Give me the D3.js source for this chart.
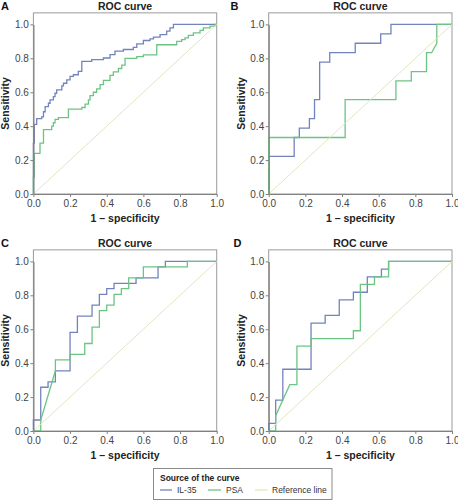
<!DOCTYPE html>
<html><head><meta charset="utf-8">
<script src="https://cdn.jsdelivr.net/npm/d3@7"></script>
<style>
html,body{margin:0;padding:0;background:#fff;}
svg{display:block;font-family:"Liberation Sans",Arial,sans-serif;}
</style></head>
<body>
<svg id="chart" width="458" height="500"></svg>
<script>
// ---------- data ----------
const panelLetters = ["A", "B", "C", "D"];
const seriesNames = ["IL-35", "PSA", "Reference line"];
const tickValues = [0, 0.2, 0.4, 0.6, 0.8, 1.0];
const chartTitle = "ROC curve";
const xTitle = "1 \u2013 specificity";
const yTitle = "Sensitivity";
const legendTitle = "Source of the curve";

// ROC vertices [1 - specificity, sensitivity]
const A_IL35 = [[0,0],[0,0.30],[0.005,0.30],[0.005,0.41],[0.018,0.41],[0.018,0.445],[0.045,0.445],[0.045,0.455],[0.055,0.455],[0.055,0.485],[0.064,0.485],[0.064,0.515],[0.082,0.515],[0.082,0.535],[0.091,0.535],[0.091,0.555],[0.109,0.555],[0.109,0.574],[0.118,0.574],[0.118,0.594],[0.127,0.594],[0.127,0.614],[0.155,0.614],[0.155,0.638],[0.164,0.638],[0.164,0.653],[0.182,0.653],[0.182,0.673],[0.2,0.673],[0.2,0.693],[0.218,0.693],[0.218,0.703],[0.245,0.703],[0.245,0.723],[0.264,0.723],[0.264,0.782],[0.318,0.782],[0.318,0.792],[0.382,0.792],[0.382,0.802],[0.418,0.802],[0.418,0.822],[0.445,0.822],[0.445,0.842],[0.491,0.842],[0.491,0.852],[0.545,0.852],[0.545,0.865],[0.564,0.865],[0.564,0.885],[0.6,0.885],[0.6,0.905],[0.636,0.905],[0.636,0.915],[0.655,0.915],[0.655,0.925],[0.691,0.925],[0.691,0.94],[0.727,0.94],[0.727,0.96],[0.745,0.96],[0.745,0.98],[0.764,0.98],[0.764,1],[1,1]];
const A_PSA = [[0,0],[0,0.10],[0.005,0.10],[0.005,0.24],[0.036,0.24],[0.036,0.30],[0.055,0.30],[0.055,0.38],[0.1,0.38],[0.1,0.40],[0.109,0.40],[0.109,0.42],[0.118,0.42],[0.118,0.44],[0.136,0.44],[0.136,0.45],[0.191,0.45],[0.191,0.50],[0.264,0.50],[0.264,0.51],[0.282,0.51],[0.282,0.53],[0.3,0.53],[0.3,0.555],[0.309,0.555],[0.309,0.58],[0.327,0.58],[0.327,0.60],[0.345,0.60],[0.345,0.62],[0.364,0.62],[0.364,0.645],[0.382,0.645],[0.382,0.67],[0.418,0.67],[0.418,0.70],[0.436,0.70],[0.436,0.72],[0.464,0.72],[0.464,0.74],[0.482,0.74],[0.482,0.76],[0.5,0.76],[0.5,0.80],[0.564,0.80],[0.564,0.81],[0.6,0.81],[0.6,0.82],[0.673,0.82],[0.673,0.88],[0.782,0.88],[0.782,0.90],[0.809,0.90],[0.809,0.91],[0.827,0.91],[0.827,0.92],[0.845,0.92],[0.845,0.935],[0.873,0.935],[0.873,0.95],[0.909,0.95],[0.909,0.965],[0.927,0.965],[0.927,0.98],[0.964,0.98],[0.964,0.99],[0.99,0.99],[0.99,1],[1,1]];
const B_IL35 = [[0,0],[0,0.222],[0.139,0.222],[0.139,0.333],[0.167,0.333],[0.167,0.389],[0.222,0.389],[0.222,0.444],[0.25,0.444],[0.25,0.556],[0.278,0.556],[0.278,0.778],[0.333,0.778],[0.333,0.833],[0.472,0.833],[0.472,0.889],[0.611,0.889],[0.611,0.944],[0.667,0.944],[0.667,1],[1,1]];
const B_PSA = [[0,0],[0,0.333],[0.417,0.333],[0.417,0.556],[0.694,0.556],[0.694,0.667],[0.778,0.667],[0.778,0.722],[0.861,0.722],[0.861,0.833],[0.889,0.833],[0.917,0.889],[0.917,1],[1,1]];
const C_IL35 = [[0,0],[0,0.065],[0.04,0.065],[0.04,0.258],[0.08,0.258],[0.08,0.29],[0.12,0.29],[0.12,0.355],[0.2,0.355],[0.2,0.581],[0.24,0.581],[0.24,0.677],[0.32,0.677],[0.32,0.742],[0.36,0.742],[0.36,0.806],[0.4,0.806],[0.4,0.839],[0.44,0.839],[0.44,0.871],[0.56,0.871],[0.56,0.903],[0.68,0.903],[0.68,0.968],[0.72,0.968],[0.72,1],[1,1]];
const C_PSA = [[0,0],[0.04,0],[0.04,0.065],[0.12,0.355],[0.12,0.419],[0.2,0.419],[0.2,0.452],[0.28,0.452],[0.28,0.516],[0.32,0.516],[0.32,0.613],[0.36,0.613],[0.36,0.71],[0.4,0.71],[0.4,0.742],[0.44,0.742],[0.44,0.806],[0.48,0.806],[0.48,0.839],[0.52,0.839],[0.52,0.903],[0.6,0.903],[0.6,0.968],[0.84,0.968],[0.84,1],[1,1]];
const D_IL35 = [[0,0],[0,0.045],[0.038,0.045],[0.038,0.182],[0.077,0.182],[0.077,0.364],[0.231,0.364],[0.231,0.636],[0.308,0.636],[0.308,0.682],[0.385,0.682],[0.385,0.773],[0.462,0.773],[0.462,0.818],[0.538,0.818],[0.538,0.909],[0.615,0.909],[0.615,0.955],[0.654,0.955],[0.654,1],[1,1]];
const D_PSA = [[0,0],[0.038,0],[0.038,0.09],[0.115,0.273],[0.154,0.273],[0.154,0.5],[0.231,0.5],[0.231,0.545],[0.462,0.545],[0.462,0.591],[0.5,0.591],[0.5,0.864],[0.577,0.864],[0.577,0.909],[0.654,0.909],[0.654,1],[1,1]];
const REF = [[0,0],[1,1]];

// ---------- styling / layout ----------
const colors = {"IL-35": "#7383bd", "PSA": "#6cc482", "Reference line": "#e2e7bf"};
const svg = d3.select("#chart");
const W = 183.3, H = 169.6;
const layouts = [
  {x0: 33.4, y0: 194, letterX: 1, letterY: 9.5},
  {x0: 268.7, y0: 194, letterX: 230.5, letterY: 9.5},
  {x0: 33.4, y0: 431, letterX: 1, letterY: 246.5},
  {x0: 268.7, y0: 431, letterX: 233.5, letterY: 246.5}
];
const seriesData = [[A_IL35, A_PSA], [B_IL35, B_PSA], [C_IL35, C_PSA], [D_IL35, D_PSA]];

panelLetters.forEach((letter, i) => {
  const L = layouts[i];
  const x = d3.scaleLinear().domain([0, 1]).range([L.x0, L.x0 + W]);
  const y = d3.scaleLinear().domain([0, 1]).range([L.y0, L.y0 - H]);
  const g = svg.append("g");

  // frame
  g.append("rect")
    .attr("x", x(0)).attr("y", y(1.068))
    .attr("width", x(1) - x(0)).attr("height", y(0) - y(1.068))
    .attr("fill", "none").attr("stroke", "#9a9a9a").attr("stroke-width", 1);

  const line = d3.line().x(d => x(d[0])).y(d => y(d[1]));
  const [il, psa] = seriesData[i];
  g.append("path").attr("d", line(il)).attr("fill", "none")
    .attr("stroke", colors["IL-35"]).attr("stroke-width", 1.3);
  g.append("path").attr("d", line(psa)).attr("fill", "none")
    .attr("stroke", colors["PSA"]).attr("stroke-width", 1.3);
  g.append("path").attr("d", line(REF)).attr("fill", "none")
    .attr("stroke", colors["Reference line"]).attr("stroke-width", 1);

  // axes
  const fmt = d3.format(".1f");
  const ax = g.append("g").attr("transform", `translate(0,${L.y0})`)
    .call(d3.axisBottom(x).tickValues(tickValues).tickFormat(fmt).tickSize(3).tickSizeOuter(0).tickPadding(3));
  const ay = g.append("g").attr("transform", `translate(${L.x0},0)`)
    .call(d3.axisLeft(y).tickValues(tickValues).tickFormat(fmt).tickSize(3).tickSizeOuter(0).tickPadding(1.5));
  [ax, ay].forEach(a => {
    a.select(".domain").attr("stroke", "#808080").attr("stroke-width", 1.2);
    a.selectAll(".tick line").attr("stroke", "#808080");
    a.selectAll(".tick text").attr("fill", "#444").attr("font-size", 10)
      .attr("font-family", "Liberation Sans, Arial, sans-serif");
  });

  // titles
  g.append("text").attr("x", (x(0) + x(1)) / 2).attr("y", L.y0 - 184)
    .attr("text-anchor", "middle").attr("font-weight", "bold").attr("font-size", 10.5)
    .attr("fill", "#222").text(chartTitle);
  g.append("text").attr("x", (x(0) + x(1)) / 2).attr("y", L.y0 + 27.5)
    .attr("text-anchor", "middle").attr("font-weight", "bold").attr("font-size", 10.5)
    .attr("fill", "#222").text(xTitle);
  g.append("text")
    .attr("transform", `translate(${L.x0 - 24},${(y(0) + y(1.068)) / 2}) rotate(-90)`)
    .attr("text-anchor", "middle").attr("font-weight", "bold").attr("font-size", 10.5)
    .attr("fill", "#222").text(yTitle);
  g.append("text").attr("x", L.letterX).attr("y", L.letterY)
    .attr("font-weight", "bold").attr("font-size", 11).attr("fill", "#111").text(letter);
});

// legend
const lg = svg.append("g");
lg.append("rect").attr("x", 153.5).attr("y", 468.5).attr("width", 178.5).attr("height", 31)
  .attr("fill", "#fff").attr("stroke", "#8a8a8a").attr("stroke-width", 1);
lg.append("text").attr("x", 160).attr("y", 480.5).attr("font-weight", "bold")
  .attr("font-size", 8.5).attr("fill", "#222").text(legendTitle);
const legendItems = [
  {name: seriesNames[0], lx: 160, lw: 12, tx: 177},
  {name: seriesNames[1], lx: 208, lw: 13, tx: 226},
  {name: seriesNames[2], lx: 255, lw: 12.5, tx: 272}
];
legendItems.forEach(it => {
  lg.append("line").attr("x1", it.lx).attr("x2", it.lx + it.lw).attr("y1", 490).attr("y2", 490)
    .attr("stroke", colors[it.name]).attr("stroke-width", 1.3);
  lg.append("text").attr("x", it.tx).attr("y", 493).attr("font-size", 8.5)
    .attr("fill", "#333").text(it.name);
});
</script>
</body></html>
